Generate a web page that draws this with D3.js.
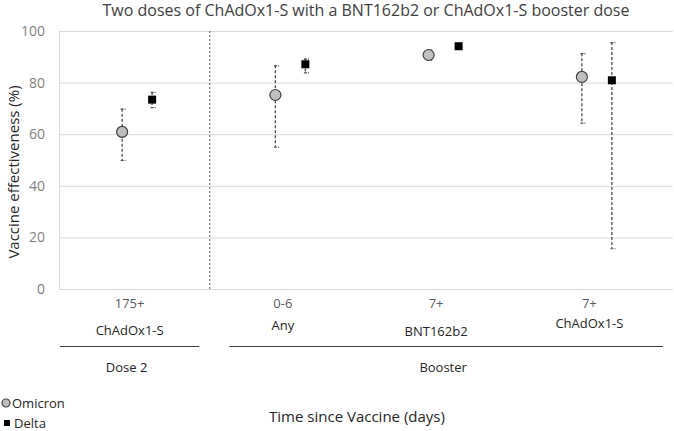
<!DOCTYPE html>
<html>
<head>
<meta charset="utf-8">
<script src="https://cdn.jsdelivr.net/npm/d3@7"></script>
<style>
  html, body { margin: 0; padding: 0; background: #fff; }
  svg { display: block; font-family: "Open Sans", "Noto Sans", sans-serif; }
</style>
</head>
<body>
<svg id="chart" width="674" height="431"></svg>
<script>
// ---- data ----
const categories = ["Dose2-ChAdOx1-S", "Booster-Any", "Booster-BNT162b2", "Booster-ChAdOx1-S"];
const timeLabels = ["175+", "0-6", "7+", "7+"];
const vaccineLabels = ["ChAdOx1-S", "Any", "BNT162b2", "ChAdOx1-S"];
const series = ["Omicron", "Delta"];
const omicronVE = [60.9, 75.2, 90.7, 82.2];
const omicronLo = [50.0, 55.2, 88.8, 64.5];
const omicronHi = [69.9, 86.7, 92.9, 91.4];
const deltaVE = [73.4, 87.1, 94.1, 80.9];
const deltaLo = [70.5, 84.0, 93.4, 15.8];
const deltaHi = [76.4, 89.3, 94.7, 95.7];
const yTicks = [0, 20, 40, 60, 80, 100];
const groups = [
  { name: "Dose 2", from: 0, to: 0 },
  { name: "Booster", from: 1, to: 3 }
];

const svg = d3.select("#chart");
const plotLeft = 59, plotRight = 673;

const y = d3.scaleLinear().domain([0, 100]).range([289, 31]);
const x = d3.scaleBand().domain(categories).range([56, 669]).padding(0);
const sx = d3.scalePoint().domain(series).range([-11, 19]);
const cx = c => x(c) + x.bandwidth() / 2;

// title
svg.append("text")
  .attr("x", 366).attr("y", 16)
  .attr("text-anchor", "middle")
  .attr("font-size", 16)
  .attr("fill", "#404040")
  .text("Two doses of ChAdOx1-S with a BNT162b2 or ChAdOx1-S booster dose");

// gridlines
svg.append("g").selectAll("line").data(yTicks).join("line")
  .attr("x1", plotLeft).attr("x2", plotRight)
  .attr("y1", d => y(d) + 0.5).attr("y2", d => y(d) + 0.5)
  .attr("stroke", "#d9d9d9").attr("stroke-width", 1);

// left axis line
svg.append("line")
  .attr("x1", plotLeft + 0.5).attr("x2", plotLeft + 0.5)
  .attr("y1", y(100)).attr("y2", y(0) + 0.5)
  .attr("stroke", "#d9d9d9");

// y axis labels via d3 axis
const yAxis = d3.axisLeft(y).tickValues(yTicks).tickSize(0).tickPadding(0);
const gy = svg.append("g").attr("transform", "translate(45,0)").call(yAxis);
gy.select(".domain").remove();
gy.selectAll("text").attr("font-size", 14).attr("fill", "#7f7f7f")
  .attr("font-family", "'Open Sans', sans-serif");

// y axis title
svg.append("text")
  .attr("transform", "translate(19,172) rotate(-90)")
  .attr("text-anchor", "middle")
  .attr("font-size", 15)
  .attr("fill", "#262626")
  .text("Vaccine effectiveness (%)");

// divider between Dose 2 and Booster
svg.append("line")
  .attr("x1", x(categories[1]) + 0.5).attr("x2", x(categories[1]) + 0.5)
  .attr("y1", y(100)).attr("y2", y(0))
  .attr("stroke", "#595959").attr("stroke-width", 1)
  .attr("stroke-dasharray", "2,2");

// x tick labels row 1
svg.append("g").selectAll("text").data(categories).join("text")
  .attr("x", d => cx(d) - 3).attr("y", 308)
  .attr("text-anchor", "middle")
  .attr("font-size", 13)
  .attr("fill", "#595959")
  .text((d, i) => timeLabels[i]);

// x labels row 2
const row2y = [335, 330, 336, 328];
svg.append("g").selectAll("text").data(categories).join("text")
  .attr("x", d => cx(d) - 3).attr("y", (d, i) => row2y[i])
  .attr("text-anchor", "middle")
  .attr("font-size", 13)
  .attr("fill", "#262626")
  .text((d, i) => vaccineLabels[i]);

// group lines + labels
groups.forEach((g, gi) => {
  const x0 = x(categories[g.from]) + (gi === 0 ? 4 : 20);
  const x1 = x(categories[g.to]) + x.bandwidth() - (gi === 0 ? 10 : 6);
  svg.append("line")
    .attr("x1", x0).attr("x2", x1).attr("y1", 346.5).attr("y2", 346.5)
    .attr("stroke", "#404040").attr("stroke-width", 1);
  svg.append("text")
    .attr("x", (x0 + x1) / 2 - 3).attr("y", 372)
    .attr("text-anchor", "middle")
    .attr("font-size", 13)
    .attr("fill", "#262626")
    .text(g.name);
});

// x axis title
svg.append("text")
  .attr("x", 357).attr("y", 422)
  .attr("text-anchor", "middle")
  .attr("font-size", 15)
  .attr("fill", "#262626")
  .text("Time since Vaccine (days)");

// error bars + markers
const data = [];
categories.forEach((c, i) => {
  data.push({ cat: c, s: "Omicron", v: omicronVE[i], lo: omicronLo[i], hi: omicronHi[i] });
  data.push({ cat: c, s: "Delta", v: deltaVE[i], lo: deltaLo[i], hi: deltaHi[i] });
});
const px = d => cx(d.cat) + sx(d.s);

const eb = svg.append("g");
eb.selectAll("line.v").data(data).join("line").attr("class", "v")
  .attr("x1", d => px(d) + 0.5).attr("x2", d => px(d) + 0.5)
  .attr("y1", d => y(d.hi)).attr("y2", d => y(d.lo))
  .attr("stroke", "#4d4d4d").attr("stroke-width", 1.3)
  .attr("stroke-dasharray", "3,2");
["hi", "lo"].forEach(k => {
  eb.selectAll("line.c" + k).data(data).join("line").attr("class", "c" + k)
    .attr("x1", d => px(d) - 1).attr("x2", d => px(d) + 4)
    .attr("y1", d => y(d[k]) + 0.5).attr("y2", d => y(d[k]) + 0.5)
    .attr("stroke", "#4d4d4d").attr("stroke-width", 1.2)
    .attr("stroke-dasharray", "3,1");
});

svg.append("g").selectAll("circle").data(data.filter(d => d.s === "Omicron")).join("circle")
  .attr("cx", d => px(d) + 0.5).attr("cy", d => y(d.v))
  .attr("r", 5.5)
  .attr("fill", "#bfbfbf").attr("stroke", "#404040").attr("stroke-width", 1.2);

svg.append("g").selectAll("rect").data(data.filter(d => d.s === "Delta")).join("rect")
  .attr("x", d => px(d) - 3.5).attr("y", d => y(d.v) - 4)
  .attr("width", 8).attr("height", 8)
  .attr("fill", "#000");

// legend
const lg = svg.append("g");
lg.append("circle").attr("cx", 6).attr("cy", 403).attr("r", 4)
  .attr("fill", "#bfbfbf").attr("stroke", "#404040").attr("stroke-width", 1.2);
lg.append("text").attr("x", 12).attr("y", 408).attr("font-size", 13)
  .attr("fill", "#262626").text(series[0]);
lg.append("rect").attr("x", 4).attr("y", 420).attr("width", 6).attr("height", 6)
  .attr("fill", "#000");
lg.append("text").attr("x", 14).attr("y", 428).attr("font-size", 13)
  .attr("fill", "#262626").text(series[1]);
</script>
</body>
</html>
